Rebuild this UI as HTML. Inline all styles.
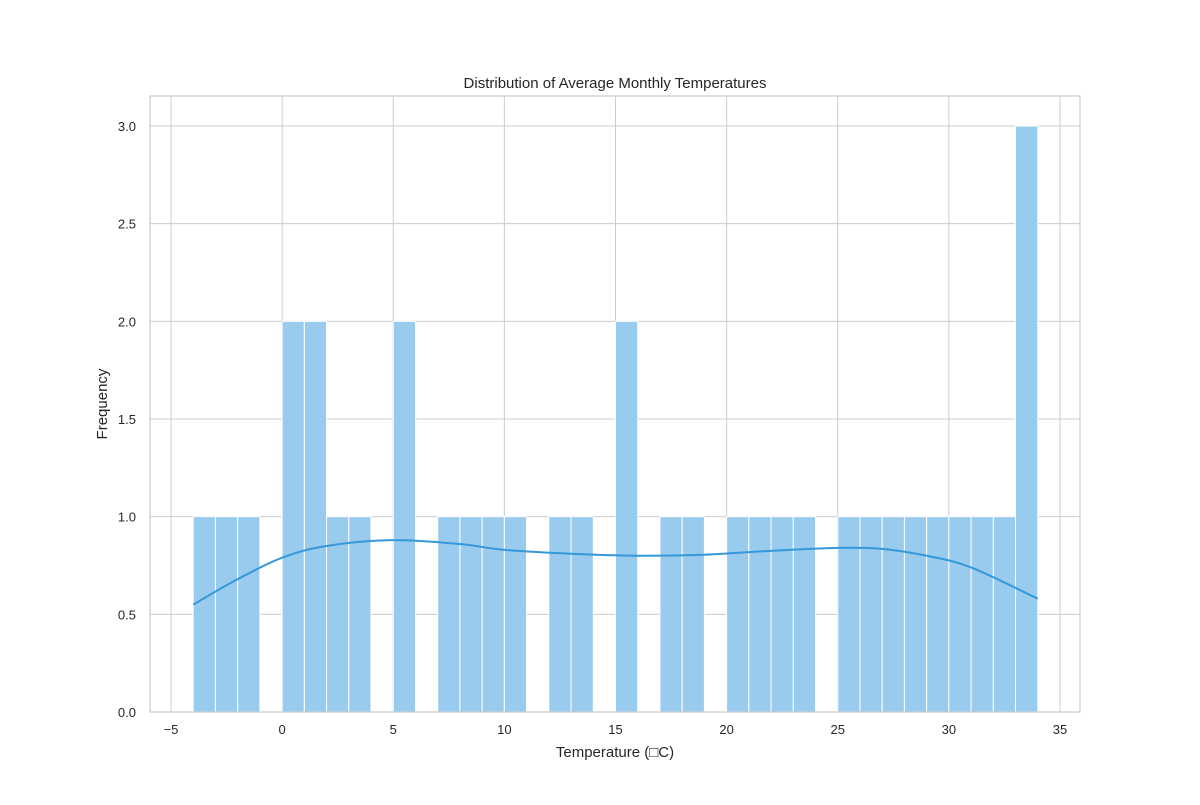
<!DOCTYPE html>
<html><head><meta charset="utf-8"><style>
body{margin:0;background:#fff;}
svg text{font-family:"Liberation Sans",Arial,sans-serif;fill:#262626;}
</style></head><body>
<svg id="chart" width="1200" height="800">
<rect x="0" y="0" width="1200" height="800" fill="#fff"/>
<g id="grid"></g><g id="bars"></g><g id="kde"></g><g id="axes"></g>
<text x="615" y="88" text-anchor="middle" font-size="15">Distribution of Average Monthly Temperatures</text>
<text x="615" y="757" text-anchor="middle" font-size="15">Temperature (□C)</text>
<text transform="translate(107,404) rotate(-90)" text-anchor="middle" font-size="15">Frequency</text>
</svg>
<script>
const binStarts=[-4,-3,-2,-1,0,1,2,3,4,5,6,7,8,9,10,11,12,13,14,15,16,17,18,19,20,21,22,23,24,25,26,27,28,29,30,31,32,33];
const counts=[1,1,1,0,2,2,1,1,0,2,0,1,1,1,1,0,1,1,0,2,0,1,1,0,1,1,1,1,0,1,1,1,1,1,1,1,1,3];
const kdeX=[-4,-2,0,2,5,8,10,13,16,19,22,25,27,29,31,34];
const kdeY=[0.55,0.68,0.79,0.85,0.88,0.86,0.83,0.81,0.80,0.805,0.825,0.84,0.835,0.80,0.74,0.58];
const xTicks=[-5,0,5,10,15,20,25,30,35];
const yTicks=[0,0.5,1,1.5,2,2.5,3];
const binWidth=1;
const NS="http://www.w3.org/2000/svg";
const L=150,R=1080,T=96,B=712;
const sx=v=>171+(v+5)*22.225;
const sy=v=>712-v*195.33;
function mk(tag,attrs,parent){const e=document.createElementNS(NS,tag);for(const k in attrs)e.setAttribute(k,attrs[k]);document.getElementById(parent).appendChild(e);return e;}
xTicks.forEach(t=>{
 const g=mk('line',{x1:sx(t),x2:sx(t),y1:T,y2:B,stroke:'#cccccc','stroke-width':1},'grid');
 
 
 const tx=mk('text',{x:sx(t),y:B+22,'text-anchor':'middle','font-size':13},'axes');
 tx.textContent=t<0?'\u2212'+Math.abs(t):t;
 
 
});
yTicks.forEach(t=>{
 const g=mk('line',{x1:L,x2:R,y1:sy(t),y2:sy(t),stroke:'#cccccc','stroke-width':1},'grid');
 
 
 const tx=mk('text',{x:L-14,y:sy(t)+5,'text-anchor':'end','font-size':13},'axes');
 tx.textContent=t.toFixed(1);
 
 
});
binStarts.forEach((b,i)=>{
 if(!counts[i])return;
 const r=mk('rect',{x:sx(b),y:sy(counts[i]),width:sx(b+binWidth)-sx(b),height:sy(0)-sy(counts[i]),fill:'#99cbee',stroke:'#fff','stroke-width':1},'bars');
 
 
});
const pts=kdeX.map((x,i)=>[sx(x),sy(kdeY[i])]);
let d='M'+pts[0][0]+','+pts[0][1];
for(let i=0;i<pts.length-1;i++){
 const p0=pts[Math.max(0,i-1)],p1=pts[i],p2=pts[i+1],p3=pts[Math.min(pts.length-1,i+2)];
 const c1=[p1[0]+(p2[0]-p0[0])/6,p1[1]+(p2[1]-p0[1])/6];
 const c2=[p2[0]-(p3[0]-p1[0])/6,p2[1]-(p3[1]-p1[1])/6];
 d+=' C'+c1+' '+c2+' '+p2;
}
const kp=mk('path',{d:d,fill:'none',stroke:'#3498db','stroke-width':2},'kde');


const fr=mk('rect',{x:L,y:T,width:R-L,height:B-T,fill:'none',stroke:'#cccccc','stroke-width':1.25},'axes');


</script>
</body></html>
